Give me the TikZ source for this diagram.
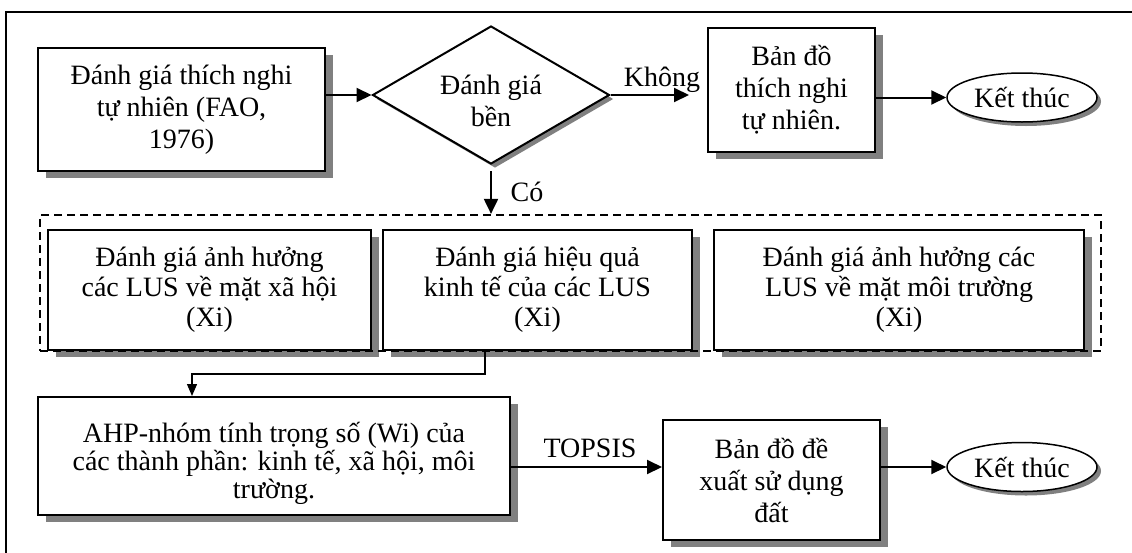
\documentclass[tikz,border=0pt]{standalone}
\usepackage{fontspec}
\setmainfont{Liberation Serif}
\usetikzlibrary{shapes.geometric,shadows,arrows.meta,calc}
\begin{document}
\begin{tikzpicture}[x=1pt,y=-1pt,
  font=\fontsize{28pt}{32pt}\selectfont,
  sh/.style={drop shadow={shadow xshift=8pt,shadow yshift=-7pt,fill=gray,opacity=1}},
  shs/.style={drop shadow={shadow xshift=4pt,shadow yshift=-4pt,fill=gray,opacity=1}},
  boxnode/.style={draw,line width=2pt,fill=white,align=center,inner sep=0pt,sh},
  endnode/.style={ellipse,draw,line width=1.5pt,fill=white,inner sep=0pt,
    minimum width=150pt,minimum height=49pt,shs},
  decnode/.style={diamond,draw,line width=2pt,fill=white,inner sep=0pt,aspect=1.72,
    minimum width=237pt,minimum height=138pt,shs},
  lbl/.style={inner sep=0pt,align=center},
  arr/.style={line width=2pt,-{Triangle[length=15pt,width=14pt]}},
  thinarr/.style={line width=1.3pt,-{Triangle[length=12pt,width=10pt]}},
  grpbox/.style={draw,line width=2.2pt,dash pattern=on 8pt off 5pt,inner sep=0pt}
]
\useasboundingbox (0,0) rectangle (1132,552);
\clip (0,0) rectangle (1132,552);
\fill[white] (0,0) rectangle (1132,552);
% outer frame
\draw[line width=1.5pt] (6,12) rectangle (1145,565);

% top row
\node[boxnode,minimum width=287pt,minimum height=123pt] (b1) at (181.5,109.5)
  {Đánh giá thích nghi\\tự nhiên (FAO,\\1976)};
\node[decnode] (d) at (491,95) {};
\node[lbl] (dt) at (491,101) {Đánh giá\\bền};
\node[boxnode,minimum width=167pt,minimum height=124pt] (b2) at (791.5,90)
  {Bản đồ\\thích nghi\\tự nhiên.};
\node[endnode] (e1) at (1022,97.5) {Kết thúc};

\draw[arr] (b1.east |- d.west) -- (d.west);
\draw[arr,shorten >=18pt] (d.east) -- (d.east -| b2.west);
\node[lbl] (lk) at (662,80) {Không};
\draw[arr] (b2.east |- e1.west) -- (e1.west);

% middle row
\node[boxnode,minimum width=323pt,minimum height=120pt,
  font=\fontsize{28pt}{30pt}\selectfont] (bA) at (209.5,290)
  {Đánh giá ảnh hưởng\\các LUS về mặt xã hội\\(Xi)};
\node[boxnode,minimum width=309pt,minimum height=120pt,
  font=\fontsize{28pt}{30pt}\selectfont] (bB) at (537.5,290)
  {Đánh giá hiệu quả\\kinh tế của các LUS\\(Xi)};
\node[boxnode,minimum width=370pt,minimum height=120pt,
  font=\fontsize{28pt}{30pt}\selectfont] (bC) at (899,290)
  {Đánh giá ảnh hưởng các\\LUS về mặt môi trường\\(Xi)};
\node[grpbox,minimum width=1061pt,minimum height=136pt] (grp) at (570.5,283) {};

\draw[arr,shorten <=6pt] (d.south) -- (d.south |- grp.north);
\node[lbl] (lc) at (527,192) {Có};

% bottom row
\node[boxnode,minimum width=472pt,minimum height=118pt] (bD) at (274,456) {};
\begin{scope}
  \clip (40,399) rectangle (508,503);
  \node[lbl,font=\fontsize{28pt}{28pt}\selectfont] (bDt) at (274,463)
    {AHP-nhóm tính trọng số (Wi) của\\các thành phần: kinh tế, xã hội, môi\\trường.};
\end{scope}
\node[boxnode,minimum width=217pt,minimum height=120pt] (bE) at (771.5,480)
  {Bản đồ đề\\xuất sử dụng\\đất};
\node[endnode] (e2) at (1022,467) {Kết thúc};

\coordinate (c1) at (485,374);
\coordinate (c2) at (192,374);
\draw[thinarr] (bB.south -| c1) -- (c1) -| (bD.north -| c2);

\draw[arr] (bD.east |- e2.west) -- (bE.west |- e2.west);
\node[lbl] (lt) at (590,448) {TOPSIS};
\draw[arr] (bE.east |- e2.west) -- (e2.west);
\end{tikzpicture}
\end{document}
